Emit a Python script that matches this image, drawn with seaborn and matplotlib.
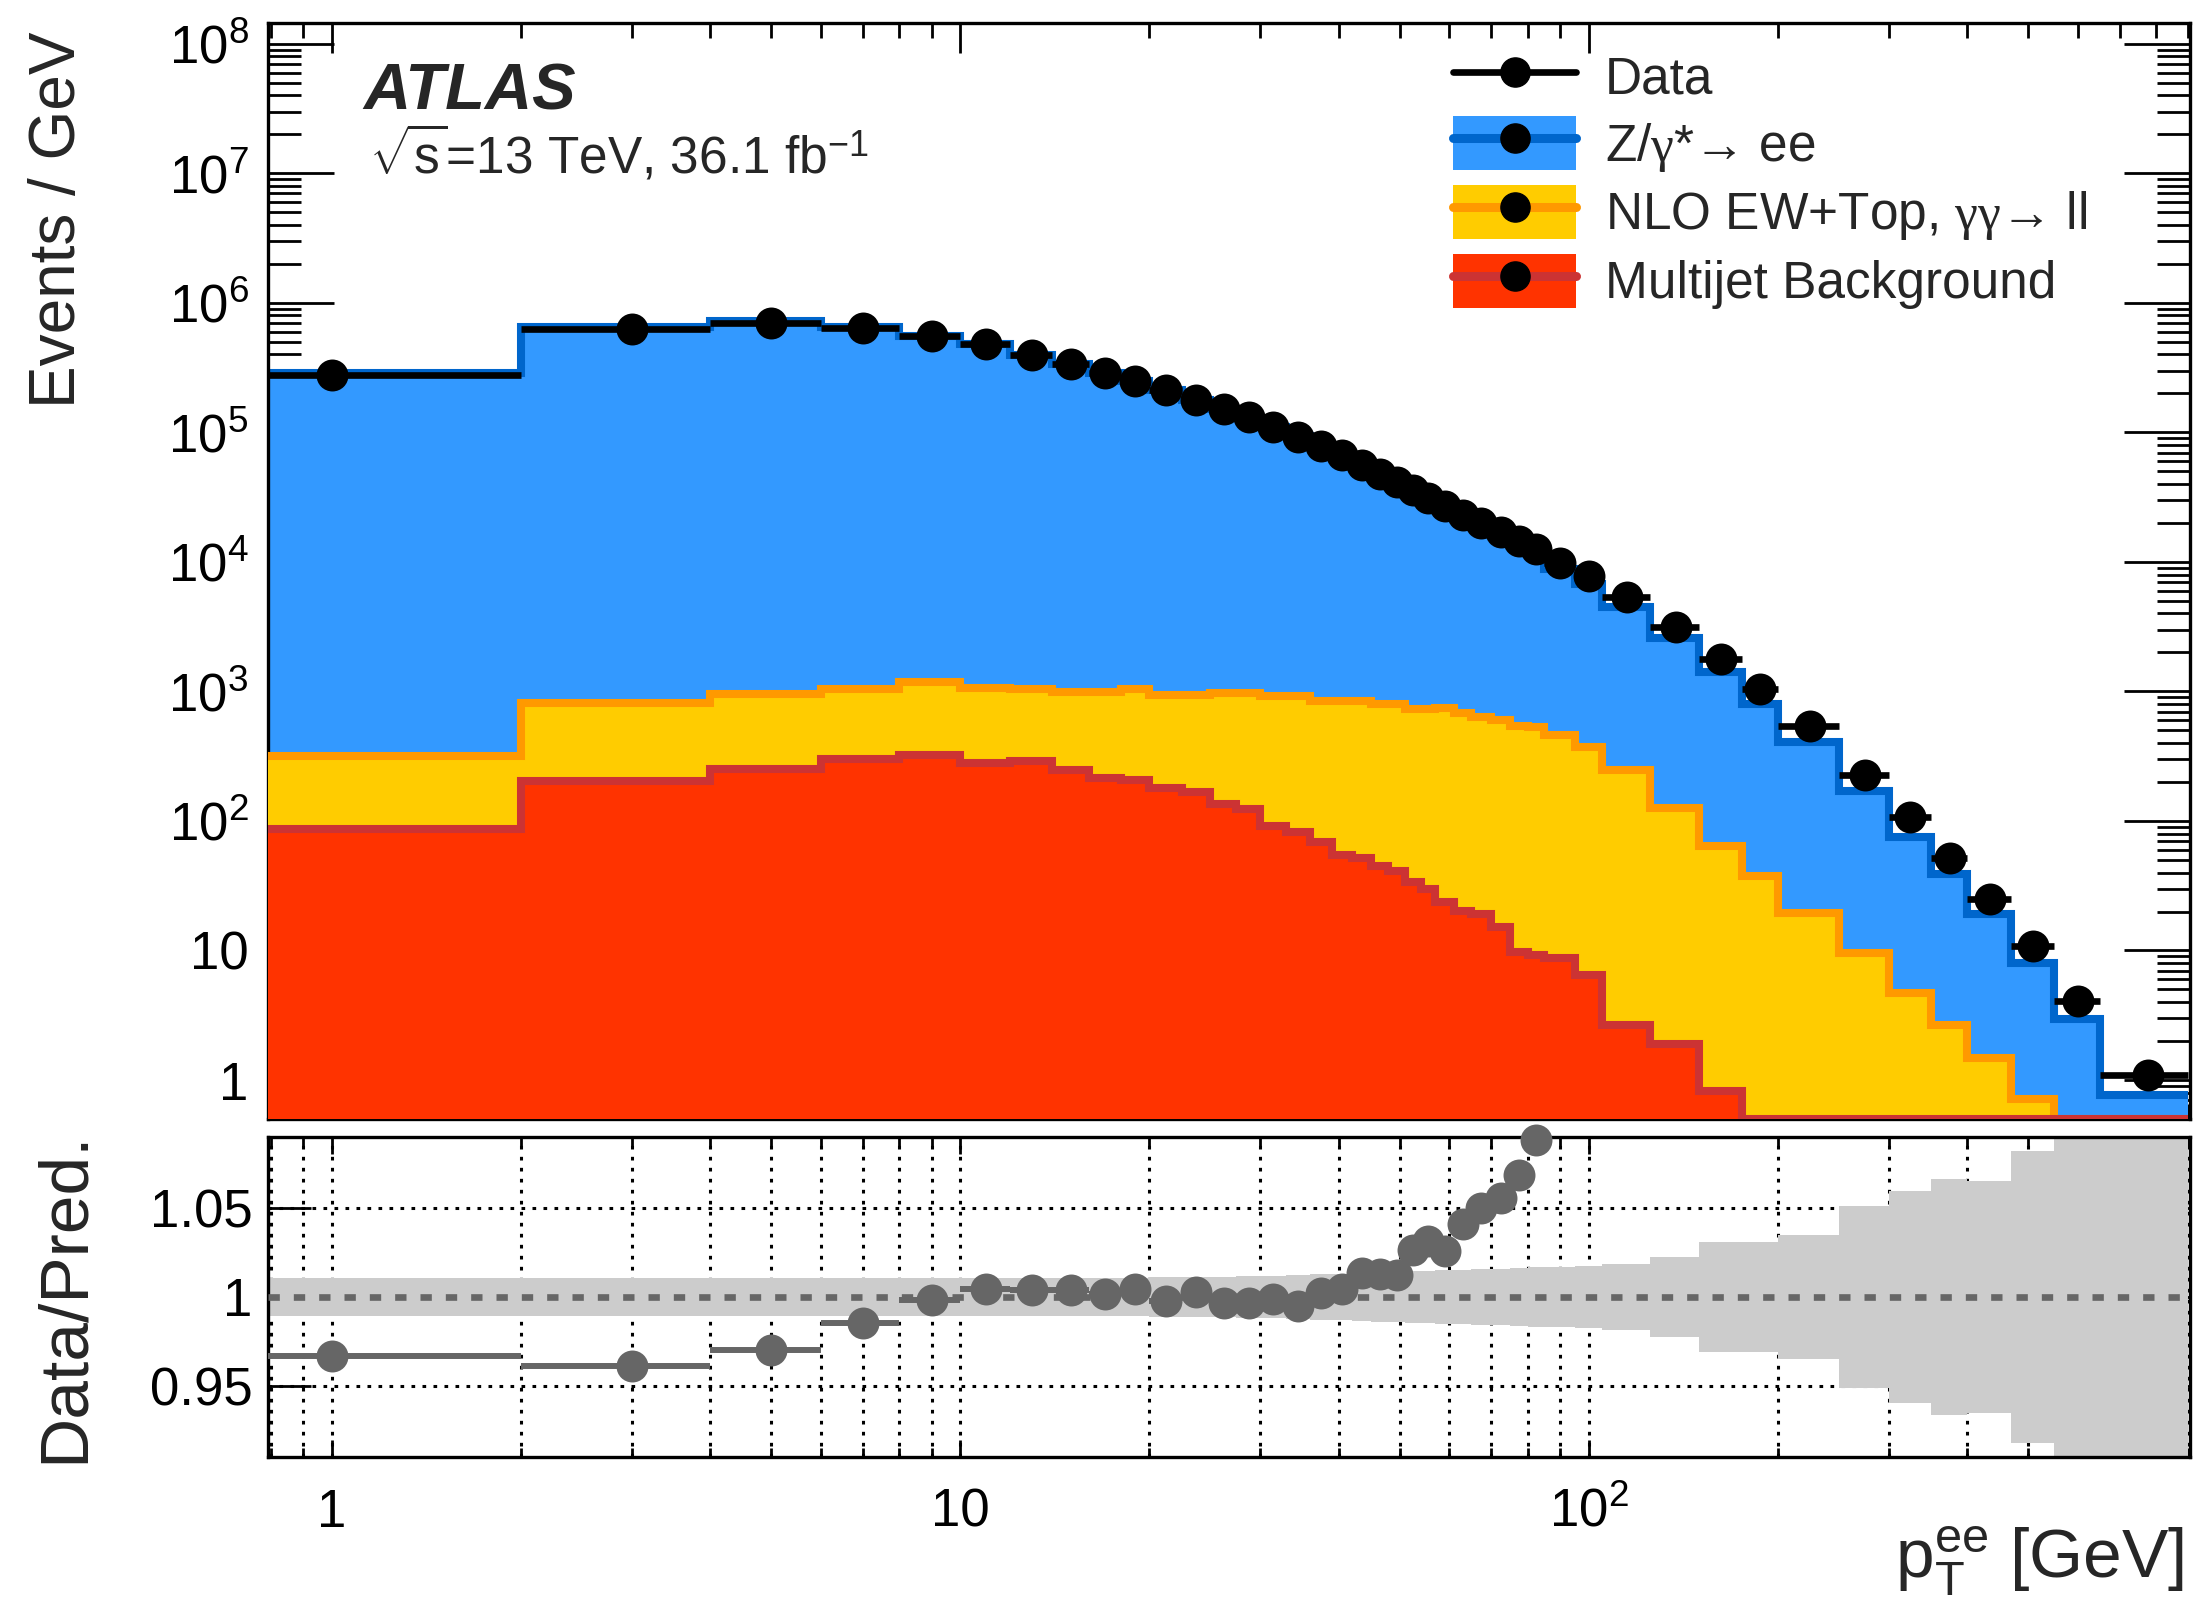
import numpy as np
import matplotlib
matplotlib.use("Agg")
import matplotlib.pyplot as plt
import seaborn as sns
from matplotlib.lines import Line2D
from matplotlib.patches import Patch
from matplotlib.ticker import FixedLocator, FuncFormatter, NullFormatter, NullLocator, LogLocator

# ---------------- data ----------------
bin_edges = [0, 2, 4, 6, 8, 10, 12, 14, 16, 18, 20, 22.5, 25, 27.5, 30, 33, 36, 39, 42, 45,
             48, 51, 54, 57, 61, 65, 70, 75, 80, 85, 95, 105, 125, 150, 175, 200, 250, 300,
             350, 400, 470, 550, 650, 900]

data = [2.79e5, 6.3e5, 7.06e5, 6.46e5, 5.57e5, 4.8e5, 3.98e5, 3.37e5, 2.9e5, 2.51e5,
        2.14e5, 1.79e5, 1.52e5, 1.31e5, 1.10e5, 9.3e4, 7.8e4, 6.65e4, 5.64e4, 4.8e4,
        4.14e4, 3.57e4, 3.12e4, 2.69e4, 2.32e4, 2.0e4, 1.70e4, 1.46e4, 1.26e4, 9.9e3,
        7.8e3, 5.4e3, 3.15e3, 1.79e3, 1.05e3, 538, 226, 108, 51.4, 25.1,
        10.8, 4.05, 1.09]

zee = [2.883e5, 6.546e5, 7.266e5, 6.545e5, 5.569e5, 4.768e5, 3.954e5, 3.346e5, 2.886e5, 2.489e5,
       2.135e5, 1.776e5, 1.515e5, 1.305e5, 1.092e5, 9.257e4, 7.699e4, 6.536e4, 5.481e4, 4.659e4,
       4.010e4, 3.404e4, 2.951e4, 2.548e4, 2.161e4, 1.841e4, 1.550e4, 1.312e4, 1.105e4, 8.334e3,
       6.425e3, 4.252e3, 2.443e3, 1.345e3, 764, 388, 160.4, 70.8, 36.0, 17.5,
       7.35, 2.48, 0.27]

ew_top = [232, 608, 696, 751, 865, 785, 757, 746, 775, 831,
          767, 779, 840, 852, 827, 836, 771, 786, 789, 757,
          761, 700, 704, 716, 660, 621, 585, 535, 521, 449,
          368, 245, 124, 63.2, 37.0, 19.1, 9.0, 4.17, 2.14, 0.99,
          0.21, 0.0, 0.0]

multijet = [86, 205, 252, 299, 325, 281, 293, 247, 215, 209,
            179, 167, 135, 123, 91, 82, 69, 54.4, 51.4, 44.7,
            41, 33.7, 30.1, 23.5, 20.1, 19.1, 15.1, 9.75, 9.25, 8.7,
            6.5, 2.66, 1.91, 0.82, 0.5, 0.5, 0.5, 0.5, 0.5, 0.5,
            0.5, 0.5, 0.5]

pred_unc = [0.0109, 0.0109, 0.0109, 0.0109, 0.0109, 0.0109, 0.0109, 0.0109, 0.0109, 0.0109,
            0.011, 0.0112, 0.0115, 0.0118, 0.012, 0.0123, 0.0127, 0.013, 0.0135, 0.014,
            0.0143, 0.0146, 0.0148, 0.015, 0.0153, 0.0156, 0.016, 0.0163, 0.0167, 0.017,
            0.0175, 0.0187, 0.0225, 0.031, 0.031, 0.035, 0.051, 0.0596, 0.0665, 0.0655,
            0.0824, 0.15, 0.15]

labels = ["Data", "Z/$\\gamma$*\u2192 ee", "NLO EW+Top, $\\gamma\\gamma$\u2192 ll",
          "Multijet Background"]

# ---------------- style ----------------
sns.set_theme(style="ticks")
plt.rcParams["font.family"] = ["Liberation Sans", "DejaVu Sans"]
plt.rcParams.update({
    "mathtext.fontset": "custom",
    "mathtext.rm": "Liberation Sans",
    "mathtext.sf": "Liberation Sans",
    "mathtext.it": "Liberation Serif",
    "mathtext.bf": "Liberation Sans:bold",
    "axes.linewidth": 2.4,
    "axes.edgecolor": "black",
})

C_Z, C_Zl = "#3399ff", "#0066cc"
C_EW, C_EWl = "#ffcc00", "#ff9900"
C_MJ, C_MJl = "#ff3300", "#cc3333"
C_RAT = "#666666"

edges = np.array(bin_edges, float)
centers = 0.5 * (edges[:-1] + edges[1:])
halfw = 0.5 * np.diff(edges)
d = np.array(data)
mj = np.array(multijet)
top_ew = mj + np.array(ew_top)
top_all = top_ew + np.array(zee)
ratio = d / top_all
unc = np.array(pred_unc)

fig = plt.figure(figsize=(21.99, 16.16), dpi=100)
ax = fig.add_axes([268 / 2199, 1 - 1119 / 1616, 1922 / 2199, 1096 / 1616])
rax = fig.add_axes([268 / 2199, 1 - 1457 / 1616, 1922 / 2199, 320 / 1616])

for a in (ax, rax):
    a.set_xscale("log", nonpositive="clip")
    a.set_xlim(0.7915, 905)
ax.set_yscale("log", nonpositive="clip")
ax.set_ylim(0.5, 1.45e8)
rax.set_ylim(0.91, 1.09)

# ---------------- main panel ----------------
lw_out = 5.8
for top, fc, ec, z in [(top_all, C_Z, C_Zl, 2), (top_ew, C_EW, C_EWl, 3), (mj, C_MJ, C_MJl, 4)]:
    ax.stairs(top, edges, baseline=1e-3, fill=True, color=fc, lw=0, zorder=z)
    ax.stairs(top, edges, baseline=None, color=ec, lw=lw_out, zorder=z + 0.5)

ax.errorbar(centers, d, xerr=halfw, fmt="none", ecolor="black", elinewidth=4.8, capsize=0, zorder=8)
sns.scatterplot(x=centers, y=d, ax=ax, color="black", s=23 ** 2, linewidth=0, zorder=9, legend=False)

# ---------------- ratio panel ----------------
rax.stairs(1 + unc, edges, baseline=1 - unc, fill=True, color="#cccccc", lw=0, zorder=2)
rax.axhline(1.0, color=C_RAT, lw=4.8, ls=(0, (1.7, 2.1)), zorder=3)
rax.errorbar(centers, ratio, xerr=halfw, fmt="none", ecolor=C_RAT, elinewidth=4.3, capsize=0, zorder=4)
m = ratio < 1.09
sns.scatterplot(x=centers[m], y=ratio[m], ax=rax, color=C_RAT, s=23 ** 2, linewidth=0,
                zorder=5, legend=False, clip_on=False)
rax.set_axisbelow(True)
rax.grid(True, which="both", axis="x", color="black", ls=(0, (1.2, 2.4)), lw=2.2)
rax.grid(True, which="major", axis="y", color="black", ls=(0, (1.2, 2.4)), lw=2.2)

# ---------------- ticks ----------------
xmaj = [1, 10, 100]
xmin_t = [0.8, 0.9] + [v * 10 ** k for k in range(0, 3) for v in range(2, 10)]
for a in (ax, rax):
    a.xaxis.set_major_locator(FixedLocator(xmaj))
    a.xaxis.set_minor_locator(FixedLocator(xmin_t))
    a.xaxis.set_minor_formatter(NullFormatter())
    a.tick_params(axis="both", which="both", direction="in", top=True, right=True,
                  width=2, colors="black", labelsize=38)

ax.yaxis.set_major_locator(LogLocator(base=10, numticks=20))
ax.yaxis.set_minor_locator(LogLocator(base=10, subs=np.arange(2, 10), numticks=50))
ax.yaxis.set_minor_formatter(NullFormatter())


def yfmt(v, pos):
    e = int(round(np.log10(v)))
    if e == 0:
        return "1"
    if e == 1:
        return "10"
    return r"$\mathrm{10^{%d}}$" % e


ax.yaxis.set_major_formatter(FuncFormatter(yfmt))
ax.tick_params(axis="x", which="major", length=21.6, labelbottom=False)
ax.tick_params(axis="x", which="minor", length=10.8)
ax.tick_params(axis="y", which="major", length=47.5, pad=14)
ax.tick_params(axis="y", which="minor", length=23.8)

rax.xaxis.set_major_formatter(FuncFormatter(yfmt))
rax.yaxis.set_major_locator(FixedLocator([0.95, 1.0, 1.05]))
rax.yaxis.set_major_formatter(FuncFormatter(lambda v, p: {0.95: "0.95", 1.0: "1", 1.05: "1.05"}[round(v, 2)]))
rax.yaxis.set_minor_locator(NullLocator())
rax.tick_params(axis="x", which="major", length=12, pad=22)
rax.tick_params(axis="x", which="minor", length=6.5)
rax.tick_params(axis="y", which="major", length=31, pad=11)

# ---------------- legend ----------------
h_data = Line2D([], [], color="black", lw=4.8, marker="o", ms=21, mfc="black", mec="black")
def fill_handle(fc, ec):
    return (Patch(facecolor=fc, edgecolor="none"),
            Line2D([], [], color=ec, lw=6.5, marker="o", ms=21, mfc="black", mec="black"))
handles = [h_data, fill_handle(C_Z, C_Zl), fill_handle(C_EW, C_EWl), fill_handle(C_MJ, C_MJl)]
ax.legend(handles, labels, loc="upper left", bbox_to_anchor=(0.6165, 0.976), frameon=False,
          fontsize=37, handlelength=2.4, handleheight=1.25, handletextpad=0.55,
          labelspacing=0.22, borderpad=0, borderaxespad=0)

# ---------------- text ----------------
fig.text(363 / 2199, 1 - 110 / 1616, "ATLAS", fontsize=47, fontweight="bold", fontstyle="italic",
         ha="left", va="baseline")
fig.text(369 / 2199, 1 - 173 / 1616, r"$\sqrt{\mathrm{s}}$=13 TeV, 36.1 fb$^{\mathrm{-1}}$",
         fontsize=37, ha="left", va="baseline")
fig.text(58 / 2199, 1 - 31 / 1616, "Events / GeV", fontsize=46, rotation=90, ha="center", va="top")
fig.text(65 / 2199, 1 - 1297 / 1616, "Data/Pred.", fontsize=50, rotation=90, ha="center", va="center")
fig.text(2184 / 2199, 1 - 1578 / 1616, r"$\mathrm{p_{T}^{ee}}$ [GeV]", fontsize=50,
         ha="right", va="baseline")

fig.savefig("out.png", dpi=100)
